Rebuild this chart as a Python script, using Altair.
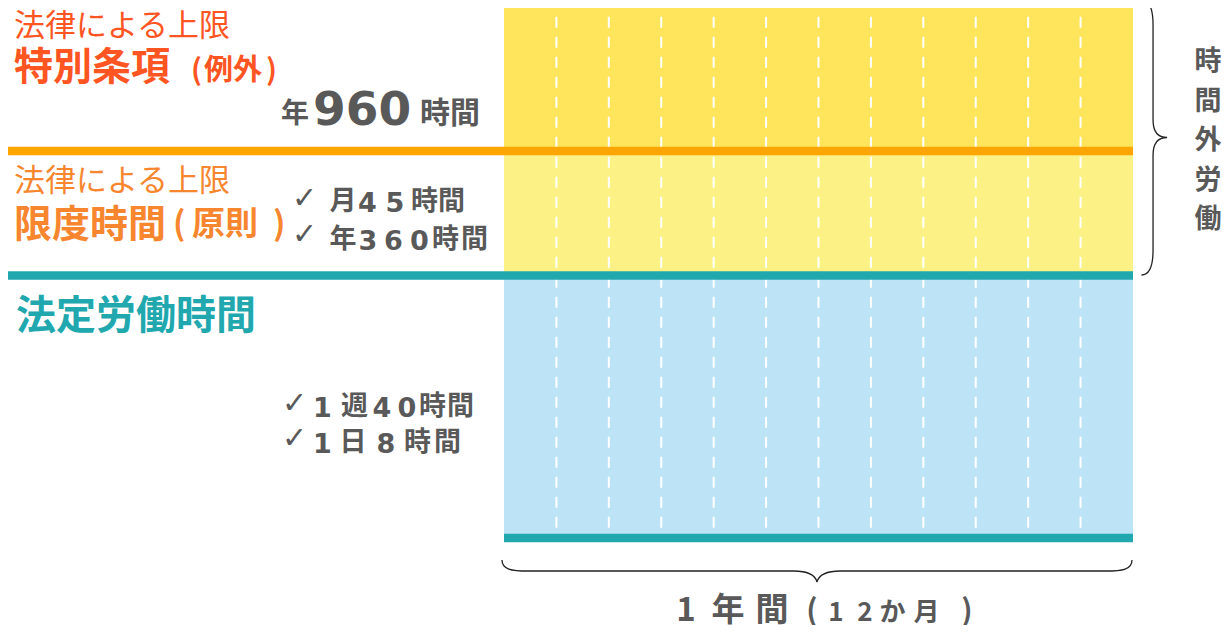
import altair as alt
import pandas as pd

# ---------------- data ----------------
band_names = ["法定労働時間", "限度時間", "特別条項"]
band_lower = [0, 1, 2]
band_upper = [1, 2, 3]
band_colors = ["#BDE3F7", "#FCF185", "#FFE55C"]
period_start = [0]
period_end = [12]
month_boundaries = [1, 2, 3, 4, 5, 6, 7, 8, 9, 10, 11]
left_boundary_levels = [1, 2]          # 法定労働時間の上端 / 限度時間の上端
bottom_level = [0]

head_text = "法律による上限"
special_title = "特別条項"
special_paren = ["(", "例外", ")"]
special_limit = ["年", "960", "時間"]
limit_title = "限度時間"
limit_paren = ["(", "原則", ")"]
limit_month = ["月", "4", "5", "時", "間"]
limit_year = ["年", "3", "6", "0", "時", "間"]
legal_title = "法定労働時間"
legal_week = ["1", "週", "4", "0", "時", "間"]
legal_day = ["1", "日", "8", "時", "間"]
check = "✓"
overtime_chars = ["時", "間", "外", "労", "働"]
year_big = ["1", "年", "間"]
year_small = ["(", "1", "2", "か", "月", ")"]

# ---------------- style ----------------
JP = "Noto Sans CJK JP"
DV = "DejaVu Sans"
GRAY = "#595959"
RED = "#FF5522"
ORANGE = "#F7862F"
TEAL = "#21A8AF"
LINE_ORANGE = "#FFA500"

x_scale = alt.Scale(domain=[0, 12], range=[496, 1125])
y_scale = alt.Scale(domain=[0, 1, 2, 3], range=[530, 267.5, 143, -8], zero=False, nice=False)

layers = []

bands = pd.DataFrame({"band": band_names, "lo": band_lower, "hi": band_upper,
                      "x0": period_start * 3, "x1": period_end * 3})
layers.append(
    alt.Chart(bands).mark_rect().encode(
        x=alt.X("x0:Q", scale=x_scale, axis=None),
        x2="x1:Q",
        y=alt.Y("lo:Q", scale=y_scale, axis=None),
        y2="hi:Q",
        color=alt.Color("band:N", scale=alt.Scale(domain=band_names, range=band_colors), legend=None),
    )
)

dashes = pd.DataFrame({"m": month_boundaries, "top": [3] * 11, "bottom": [0] * 11})
layers.append(
    alt.Chart(dashes).mark_rule(color="white", strokeWidth=2, strokeDash=[11, 9], strokeDashOffset=3.3).encode(
        x=alt.X("m:Q", scale=x_scale, axis=None),
        y=alt.Y("top:Q", scale=y_scale, axis=None),
        y2="bottom:Q",
    )
)

for lvl, col in zip(left_boundary_levels, [TEAL, LINE_ORANGE]):
    d = pd.DataFrame({"level": [lvl], "end": period_end})
    layers.append(
        alt.Chart(d).mark_rule(color=col, strokeWidth=8.5).encode(
            x=alt.X("end:Q", scale=x_scale, axis=None),
            x2=alt.value(0),
            y=alt.Y("level:Q", scale=y_scale, axis=None),
        )
    )

bottom = pd.DataFrame({"level": bottom_level, "s": period_start, "e": period_end})
layers.append(
    alt.Chart(bottom).mark_rule(color=TEAL, strokeWidth=8.5).encode(
        x=alt.X("s:Q", scale=x_scale, axis=None),
        x2="e:Q",
        y=alt.Y("level:Q", scale=y_scale, axis=None),
    )
)

# braces (custom symbol paths, unit = half length)
right_brace = ("M -0.091 -1 C -0.03 -1 -0.007 -0.93 -0.007 -0.82 L -0.007 -0.13 "
               "C -0.007 -0.04 0.03 0 0.095 0 C 0.03 0 -0.007 0.04 -0.007 0.13 "
               "L -0.007 0.82 C -0.007 0.93 -0.03 1 -0.091 1")
bottom_brace = ("M -1 -0.035 C -1 -0.005 -0.97 0 -0.917 0 L -0.075 0 "
                "C -0.03 0 -0.006 0.01 0 0.035 C 0.006 0.01 0.03 0 0.075 0 "
                "L 0.917 0 C 0.97 0 1 -0.005 1 -0.035")
one = pd.DataFrame({"k": [1]})
layers.append(alt.Chart(one).mark_point(shape=right_brace, size=275 ** 2, filled=False, stroke="#222222",
                                        strokeWidth=1.3, opacity=1).encode(x=alt.value(1146), y=alt.value(129.5)))
layers.append(alt.Chart(one).mark_point(shape=bottom_brace, size=630 ** 2, filled=False, stroke="#222222",
                                        strokeWidth=1.3, opacity=1).encode(x=alt.value(809), y=alt.value(563)))


def txt(s, x, y, size, color, bold=True, font=JP, align="left"):
    return alt.Chart(pd.DataFrame({"t": [s]})).mark_text(
        font=font, fontSize=size, fontWeight="bold" if bold else "normal",
        color=color, align=align, baseline="alphabetic"
    ).encode(x=alt.value(x), y=alt.value(y), text="t:N")


def spaced(chars, centers, y, kanji_size=27, digit_size=27):
    out = []
    for c, x in zip(chars, centers):
        if c.isdigit():
            out.append(txt(c, x, y + 2, digit_size, GRAY, font=DV, align="center"))
        else:
            out.append(txt(c, x, y, kanji_size, GRAY, align="center"))
    return out


# 特別条項 block
layers.append(txt(head_text, 6, 28, 31, RED, bold=False))
layers.append(txt(special_title, 6, 72, 39, RED))
layers.append(txt(special_paren[0], 183, 72, 29, RED))
layers.append(txt(special_paren[1], 196, 72, 29, RED))
layers.append(txt(special_paren[2], 258, 72, 29, RED))
layers.append(txt(special_limit[0], 273, 115, 28, GRAY))
layers.append(txt(special_limit[1], 305, 117, 47, GRAY, font=DV))
layers.append(txt(special_limit[2], 412, 115, 30, GRAY))

# 限度時間 block
layers.append(txt(head_text, 6, 183, 31, ORANGE, bold=False))
layers.append(txt(limit_title, 6, 229, 38, ORANGE))
layers.append(txt(limit_paren[0], 165, 227, 33, ORANGE))
layers.append(txt(limit_paren[1], 184, 227, 33, ORANGE))
layers.append(txt(limit_paren[2], 265, 227, 33, ORANGE))
layers.append(txt(check, 296.5, 200, 30, GRAY, font=DV, align="center"))
layers.append(txt(check, 296.5, 236, 30, GRAY, font=DV, align="center"))
layers += spaced(limit_month, [335, 359.5, 387, 416.5, 443.5], 202)
layers += spaced(limit_year, [335, 360, 385.5, 411.5, 437.5, 466.5], 240)

# 法定労働時間 block
layers.append(txt(legal_title, 8, 321, 40, TEAL))
layers.append(txt(check, 286.5, 405, 30, GRAY, font=DV, align="center"))
layers.append(txt(check, 286.5, 440, 30, GRAY, font=DV, align="center"))
layers += spaced(legal_week, [314.5, 346.5, 374, 399, 424.5, 452.5], 407)
layers += spaced(legal_day, [314.5, 345, 378, 409.5, 439.5], 443)

# 時間外労働 (vertical)
for i, c in enumerate(overtime_chars):
    layers.append(txt(c, 1200, 62 + i * 39.5, 27, GRAY, align="center"))

# 1年間（12か月）
for c, x in zip(year_big, [678, 720, 764]):
    layers.append(txt(c, x, 613, 33, GRAY, align="center"))
for c, x in zip(year_small, [804, 828, 857, 884.5, 918.5, 959]):
    layers.append(txt(c, x, 613, 30 if c in "()" else 26, GRAY, align="center"))

chart = alt.layer(*layers).properties(
    width=1215, height=617, padding=0,
    autosize=alt.AutoSizeParams(type="none"),
).configure_view(stroke=None)

chart.save("out.html", embed_options={"renderer": "svg", "actions": False})
